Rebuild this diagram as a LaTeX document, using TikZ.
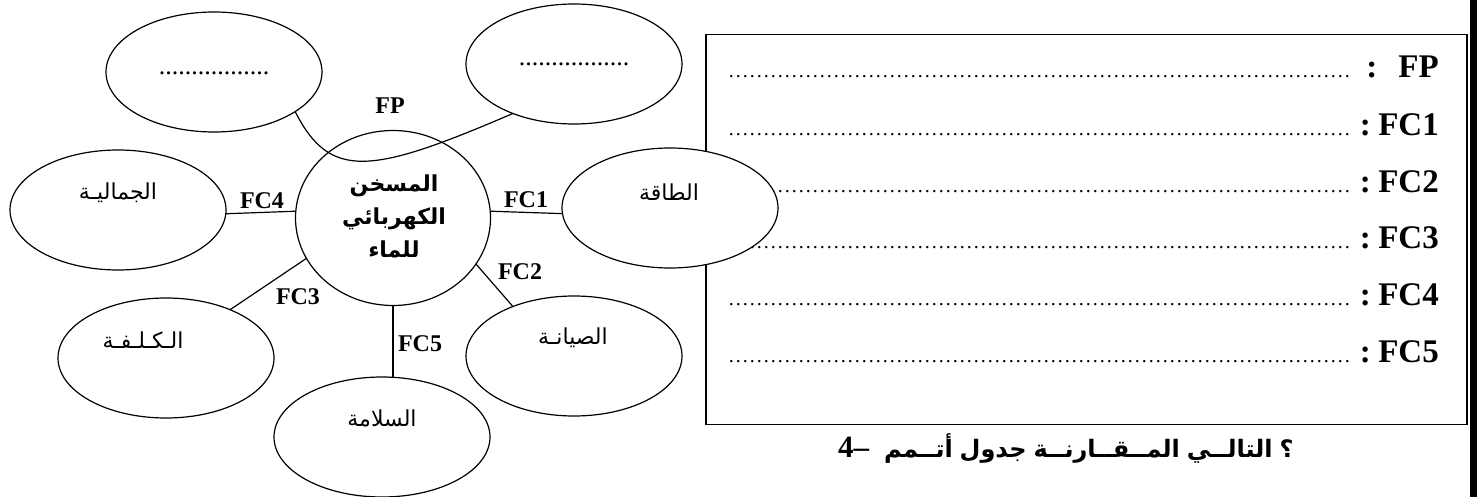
\documentclass[tikz,border=0pt]{standalone}
\usepackage{graphicx}
\usepackage{fontspec}
\setmainfont{Liberation Serif}
\newfontfamily\arabicfont[Script=Arabic]{DejaVu Sans}
\TeXXeTstate=1
\usetikzlibrary{shapes.geometric}
\newcommand\mydots[1]{\hbox to #1{\fontsize{20}{24}\selectfont\leaders\hbox to 7pt{\hss.\hss}\hfill}}
\newcommand\fcrow[1]{\mydots{624pt}\hbox to 23pt{\hss\bfseries\fontsize{33}{36}\selectfont :\hspace{4pt}}\hbox to 64pt{\hss\bfseries\fontsize{33}{36}\selectfont #1}}
\newcommand\arw[1]{\hbox{\beginR #1\endR}}
\begin{document}
\begin{tikzpicture}[x=1pt,y=-1pt,
  ell/.style={draw, ellipse, line width=1.2pt, minimum width=216pt, minimum height=120pt, inner sep=0pt, outer sep=0pt, fill=white},
  conn/.style={line width=1.2pt},
  fclab/.style={font=\fontsize{24}{28}\selectfont\bfseries, inner sep=0pt},
  arlab/.style={font=\arabicfont\fontsize{22}{26}\selectfont, inner sep=0pt},
  rowlab/.style={anchor=base east, inner sep=0pt},
  dotlab/.style={font=\fontsize{26}{30}\selectfont, inner sep=0pt}]
\useasboundingbox (0,0) rectangle (1477,497);
% answer box
\node[draw, line width=1.2pt, minimum width=761pt, minimum height=390pt, inner sep=0pt, outer sep=0pt] (box) at (1086.5,229.5) {};
\fill (1470,0) rectangle (1477,497);
\node[rowlab] (rfp) at (1439,78) {\mydots{627pt}\hbox to 34pt{\hss\bfseries\fontsize{33}{36}\selectfont :\hss}\hbox to 50pt{\hss\bfseries\fontsize{33}{36}\selectfont FP}};
\node[rowlab] (r1) at (1439,136) {\fcrow{FC1}};
\node[rowlab] (r2) at (1439,193) {\fcrow{FC2}};
\node[rowlab] (r3) at (1439,248) {\fcrow{FC3}};
\node[rowlab] (r4) at (1439,305) {\fcrow{FC4}};
\node[rowlab] (r5) at (1439,362) {\fcrow{FC5}};
% ellipses
\node[ell] (tl) at (214,72) {};
\node[ell] (tr) at (574,64) {};
\node[ell] (jm) at (118,210) {};
\node[ell] (tq) at (670,208) {};
\node[ell] (sy) at (574,356) {};
\node[ell] (kl) at (166,358) {};
\node[ell] (sl) at (382,437) {};
\node[draw, ellipse, line width=1.2pt, minimum width=195pt, minimum height=175pt, inner sep=0pt, outer sep=0pt] (c) at (393,218) {};
% texts
\node[dotlab] (tlt) at (214,73) {.................};
\node[dotlab] (trt) at (574,64) {.................};
\node[arlab] (jmt) at (118,193) {\beginR الجماليـة\endR};
\node[arlab] (tqt) at (669,192) {\beginR الطاقة\endR};
\node[arlab] (syt) at (573,338) {\beginR الصيانـة\endR};
\node[arlab] (klt) at (143,340) {\beginR الـكـلـفـة\endR};
\node[arlab] (slt) at (382,418) {\beginR السلامة\endR};
\node[align=center, inner sep=0pt, font=\arabicfont\bfseries\fontsize{22}{33}\selectfont] (ct) at (394,216) {\beginR المسخن\endR\\\beginR الكهربائي\endR\\\beginR للماء\endR};
% connectors
\draw[conn] (jm.-2) -- (c.176);
\draw[conn] (c.4) -- (tq.183);
\draw[conn] (c.-29) -- (sy.141);
\draw[conn] (c.205.5) -- (kl.37.7);
\draw[conn] (c.south) -- (c.south |- sl.north);
\draw[conn] (tl.-26) .. controls (330,180) and (370,175) .. (tr.219);
% labels
\node[fclab] (lfp) at (390,106) {FP};
\node[fclab] (lfc4) at (262,201) {FC4};
\node[fclab] (lfc1) at (526,200) {FC1};
\node[fclab] (lfc2) at (520,272) {FC2};
\node[fclab] (lfc3) at (298,297) {FC3};
\node[fclab] (lfc5) at (420,344) {FC5};
% question
\node[anchor=base west, inner sep=0pt] (q) at (838,457) {{\bfseries\fontsize{31}{34}\selectfont 4–}\hspace{15pt}{\arabicfont\bfseries\fontsize{24}{28}\selectfont \arw{أتــمم}\hspace{7pt}\arw{جدول}\hspace{7pt}\arw{المــقــارنــة}\hspace{7pt}\arw{التالــي}\hspace{7pt}\arw{؟}}};
\end{tikzpicture}
\end{document}
